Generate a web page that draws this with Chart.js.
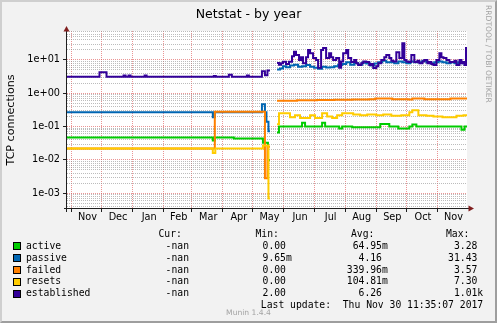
<!DOCTYPE html>
<html>
<head>
<meta charset="utf-8">
<script src="https://cdn.jsdelivr.net/npm/chart.js@4.4.1/dist/chart.umd.min.js"></script>
<style>
html,body{margin:0;padding:0;background:#fff;}
#wrap{position:relative;width:497px;height:323px;background:#f2f2f2;overflow:hidden;font-family:'DejaVu Sans';color:#000;}
#wrap canvas{position:absolute;left:0;top:0;}
#frame{position:absolute;left:0;top:0;width:497px;height:323px;box-sizing:border-box;border-top:2px solid #cfcfcf;border-left:2px solid #cfcfcf;border-right:2px solid #9e9e9e;border-bottom:2px solid #9e9e9e;pointer-events:none;}
.t{position:absolute;white-space:pre;}
.mono{font-family:'DejaVu Sans Mono';font-size:9.72px;line-height:12px;}
.box{position:absolute;width:6px;height:6px;border:1px solid #000;}
#title{left:0;width:497px;top:6px;text-align:center;font-size:12.5px;line-height:15px;}
#ylab{left:-78px;top:113px;width:178px;height:14px;text-align:center;font-size:11.1px;line-height:14px;transform:rotate(-90deg);color:#000;}
#side{left:483.5px;top:5px;writing-mode:vertical-rl;font-size:7.6px;line-height:9px;color:#a3a3a3;}
#water{left:0;width:497px;top:308px;text-align:center;font-size:7.6px;line-height:9px;color:#a3a3a3;}
</style>
</head>
<body>
<div id="wrap">
  <canvas id="myChart" width="497" height="323"></canvas>
  <div class="t" id="title">Netstat - by year</div>
  <div class="t" id="ylab">TCP connections</div>
  <div class="t" id="side">RRDTOOL / TOBI OETIKER</div>
  <div class="t" id="water">Munin 1.4.4</div>
  <div id="legend"></div>
  <div id="frame"></div>
</div>
<script>
// x values are days counted from 1 Nov 2016

let months = ['Nov','Dec','Jan','Feb','Mar','Apr','May','Jun','Jul','Aug','Sep','Oct','Nov'];
let monthStarts = [0,30,61,92,120,151,181,212,242,273,304,334,365];
let monthLens = [30,31,31,28,31,30,31,30,31,31,30,31,30];

let yDecades = [1e-3,1e-2,1e-1,1e0,1e1];
let yTickLabels = ['1e-03','1e-02','1e-01','1e+00','1e+01'];

let activeDays = [-4.4,141,143,162,191,196,198,200,205,207,230,233,250,253,267,270,280,308,317,326,337,340,344,389,392,394.5];
let activeVals = [0.047,0.038,0.047,0.044,0.033,0.01,0.01,null,0.066,0.1,0.13,0.1,0.13,0.1,0.087,0.1,0.095,0.12,0.1,0.087,0.1,0.115,0.1,0.08,0.1,0.1];

let passiveDays = [-4.4,141,143,190,193,194.5,196.5,198,200,205,208,211,214,218,222,226,230,234,238,242,246,250,254,258,262,266,270,274,278,282,286,290,294,298,302,306,310,314,318,322,326,330,334,338,342,346,350,354,358,362,366,370,374,378,382,386,390,394.5];
let passiveVals = [0.27,0.19,0.27,0.47,0.27,0.14,0.073,0.073,null,5.2,5.5,6.5,6,6.8,7.2,6.2,6.5,7,6.2,5.8,5.4,6.2,5.9,6,6.5,7,7.5,8.5,7.2,8,7.2,8.2,7.8,6.8,7.8,8.5,9.5,8.5,8.5,8,9,8.5,8,9,8.5,8.5,9.5,8.5,8,8.5,9,8.5,8,8.5,8,8.5,8,8];

let failedDays = [-4.4,143,193,195.5,198,200,205,225,245,262,280,297,303,320,336,340,352,372,378,394.5];
let failedVals = [0.022,0.28,0.0028,0.025,0.025,null,0.6,0.62,0.63,0.64,0.65,0.66,0.7,0.66,0.65,0.7,0.66,0.66,0.7,0.66];

let resetsDays = [-4.4,141,143.5,191,196.5,198,200,205,207,218,223,228,238,243,250,255,260,265,270,281,288,295,304,311,319,329,337,340,346,354,361,370,384,391,394.5];
let resetsVals = [0.022,0.016,0.022,0.027,0.0007,0.0007,null,0.117,0.25,0.19,0.22,0.18,0.22,0.18,0.25,0.2,0.18,0.22,0.25,0.23,0.22,0.23,0.22,0.23,0.21,0.22,0.27,0.31,0.22,0.21,0.2,0.19,0.21,0.22,0.21];

let establishedDays = [-4.4,28,35,52,54,57,59,73,75,142,144,157,160,175,177,190,193,195.5,198,200,
  205,207,209,211,214,217,220,222,224,227,229,231,234,236,238,241,244,246,249,251,254,257,259,261,264,267,269,271,274,276,279,282,284,286,289,291,294,297,299,301,304,306,309,312,314,317,319,321,324,327,330,332,334,336,339,342,345,347,350,352,355,357,359,361,364,367,369,371,374,377,379,382,384,387,389,391,392,393.5,394.5];
let establishedVals = [3.16,4.3,3.16,3.4,3.16,3.4,3.16,3.4,3.16,3.3,3.16,3.6,3.16,3.4,3.16,4.6,3.5,4.8,4.8,null,
  8.1,7.2,8.0,8.9,7.6,8.9,13,17.7,14,10,12,7.9,12,20,16,11.5,10,5.8,20,23,11.5,16,12,10,11.5,5.8,9,16,20,11.5,8.7,10,8,7.1,7.9,9,8.7,7.0,7.5,5.7,6.5,8,10,12,14,11.5,9.5,9,17,11.5,32,10,9,8.7,14,8.7,9.5,7.9,9,10,8,8.7,7.5,7.0,10,16,12,11.5,10,8.5,8.7,9.5,7.0,10,8,8.7,7.0,23,23];

let names = ['active','passive','failed','resets','established'];
let colors = ['#00cc00','#0066b3','#ff8000','#ffcc00','#330099'];
let curVals = ['-nan','-nan','-nan','-nan','-nan'];
let minVals = ['0.00','9.65m','0.00','0.00','2.00'];
let avgVals = ['64.95m','4.16','339.96m','104.81m','6.26'];
let maxVals = ['3.28','31.43','3.57','7.30','1.01k'];
let lastUpdate = 'Thu Nov 30 11:35:07 2017';

// legend below the graph

let legend = document.getElementById('legend');
function addText(txt, css) {
    let d = document.createElement('div');
    d.className = 't mono';
    d.textContent = txt;
    d.style.cssText = css;
    legend.appendChild(d);
}
function withSuffix(v) {
    return /[a-z]$/i.test(v) && v != '-nan' ? v : v + ' ';
}
addText('Cur:', 'left:158.5px;top:228px;');
addText('Min:', 'left:255.5px;top:228px;');
addText('Avg:', 'left:351px;top:228px;');
addText('Max:', 'left:446px;top:228px;');
names.forEach(function(n, i) {
    let top = 239.7 + i * 11.9;
    let b = document.createElement('div');
    b.className = 'box';
    b.style.cssText = 'left:13px;top:' + (top + 2.5) + 'px;background:' + colors[i] + ';';
    legend.appendChild(b);
    addText(n, 'left:26px;top:' + top + 'px;');
    addText(curVals[i], 'right:308px;top:' + top + 'px;');
    addText(withSuffix(minVals[i]), 'right:205.2px;top:' + top + 'px;');
    addText(withSuffix(avgVals[i]), 'right:109.2px;top:' + top + 'px;');
    addText(withSuffix(maxVals[i]), 'right:13.8px;top:' + top + 'px;');
});
addText('Last update:  ' + lastUpdate, 'right:13.8px;top:299.3px;');

// chart

function pts(xs, ys) {
    return xs.map(function(x, i) { return {x: x, y: ys[i]}; });
}
function isDecade(v) {
    let l = Math.log10(v);
    return Math.abs(l - Math.round(l)) < 1e-6;
}
let monthMids = monthStarts.map(function(s, i) { return s + monthLens[i] / 2 + 1; });

let gridMajor = 'rgba(222,79,79,0.6)';
let gridMinor = 'rgba(143,143,143,0.6)';
let axisColor = '#1f1f1f';

let rrdFrame = {
    id: 'rrdFrame',
    beforeDraw: function(chart) {
        let a = chart.chartArea, ctx = chart.ctx;
        ctx.save();
        ctx.fillStyle = '#fff';
        ctx.fillRect(a.left, a.top, a.right - a.left, a.bottom - a.top);
        ctx.restore();
    },
    beforeDatasetsDraw: function(chart) {
        let a = chart.chartArea, ctx = chart.ctx;
        ctx.save();
        ctx.strokeStyle = axisColor;
        ctx.lineWidth = 1;
        ctx.beginPath();
        ctx.moveTo(a.left - 3, a.bottom + 0.5);
        ctx.lineTo(a.right + 3, a.bottom + 0.5);
        ctx.moveTo(a.left - 0.5, a.bottom + 4);
        ctx.lineTo(a.left - 0.5, a.top - 2);
        ctx.stroke();
        ctx.fillStyle = '#801f1f';
        ctx.beginPath();
        ctx.moveTo(a.left - 0.5, a.top - 5);
        ctx.lineTo(a.left - 3.5, a.top + 0.5);
        ctx.lineTo(a.left + 2.5, a.top + 0.5);
        ctx.closePath();
        ctx.fill();
        ctx.beginPath();
        ctx.moveTo(a.right + 7, a.bottom + 0.5);
        ctx.lineTo(a.right + 1.5, a.bottom - 2.5);
        ctx.lineTo(a.right + 1.5, a.bottom + 3.5);
        ctx.closePath();
        ctx.fill();
        ctx.restore();
    }
};

let datasets = [
    {data: pts(activeDays, activeVals), order: 5},
    {data: pts(passiveDays, passiveVals), order: 4},
    {data: pts(failedDays, failedVals), order: 3},
    {data: pts(resetsDays, resetsVals), order: 2},
    {data: pts(establishedDays, establishedVals), order: 1}
].map(function(d, i) {
    d.label = names[i];
    d.borderColor = colors[i];
    d.backgroundColor = colors[i];
    d.borderWidth = 2;
    d.pointRadius = 0;
    d.stepped = true;
    d.spanGaps = false;
    d.fill = false;
    return d;
});

var ctx = document.getElementById('myChart').getContext('2d');
var myChart = new Chart(ctx, {
    type: 'line',
    data: {datasets: datasets},
    plugins: [rrdFrame],
    options: {
        responsive: false,
        animation: false,
        layout: {padding: {left: 0, right: 30, top: 31, bottom: 95}},
        plugins: {legend: {display: false}, tooltip: {enabled: false}},
        scales: {
            x: {
                type: 'linear',
                min: -4.4,
                max: 394.5,
                afterFit: function(s) { s.height = 20; },
                afterBuildTicks: function(s) {
                    let t = [];
                    monthStarts.forEach(function(v) { t.push({value: v}); });
                    monthMids.forEach(function(v, i) { t.push({value: v, mid: i}); });
                    t.sort(function(a, b) { return a.value - b.value; });
                    s.ticks = t;
                },
                ticks: {
                    autoSkip: false,
                    maxRotation: 0,
                    minRotation: 0,
                    padding: 0,
                    color: '#000',
                    font: {family: 'DejaVu Sans', size: 9.72},
                    callback: function(v) {
                        let i = monthMids.indexOf(v);
                        return i >= 0 ? months[i] : '';
                    }
                },
                grid: {
                    color: function(c) { return monthStarts.indexOf(c.tick.value) >= 0 ? gridMajor : 'rgba(0,0,0,0)'; },
                    tickColor: function(c) { return monthStarts.indexOf(c.tick.value) >= 0 ? axisColor : 'rgba(0,0,0,0)'; },
                    tickLength: 4,
                    lineWidth: 1
                },
                border: {display: false, dash: [1, 1]}
            },
            y: {
                type: 'logarithmic',
                min: 3.6e-4,
                max: 74,
                afterFit: function(s) { s.width = 67; },
                afterBuildTicks: function(s) {
                    let t = [];
                    for (let e = -4; e <= 1; e++) {
                        for (let m = 1; m <= 9; m++) {
                            let v = m * Math.pow(10, e);
                            if (e < 0) v = parseFloat(v.toFixed(-e + 1));
                            if (v >= s.min && v <= s.max) t.push({value: v});
                        }
                    }
                    s.ticks = t;
                },
                ticks: {
                    autoSkip: false,
                    padding: 3,
                    color: '#000',
                    font: {family: 'DejaVu Sans', size: 9.72},
                    callback: function(v) {
                        if (!isDecade(v)) return '';
                        let e = Math.round(Math.log10(v));
                        return yTickLabels[yDecades.findIndex(function(d) { return Math.round(Math.log10(d)) == e; })];
                    }
                },
                grid: {
                    color: function(c) { return isDecade(c.tick.value) ? gridMajor : gridMinor; },
                    tickColor: function(c) { return isDecade(c.tick.value) ? axisColor : 'rgba(0,0,0,0)'; },
                    tickLength: 4,
                    lineWidth: 1
                },
                border: {display: false, dash: [1, 1]}
            }
        }
    }
});
</script>
</body>
</html>
